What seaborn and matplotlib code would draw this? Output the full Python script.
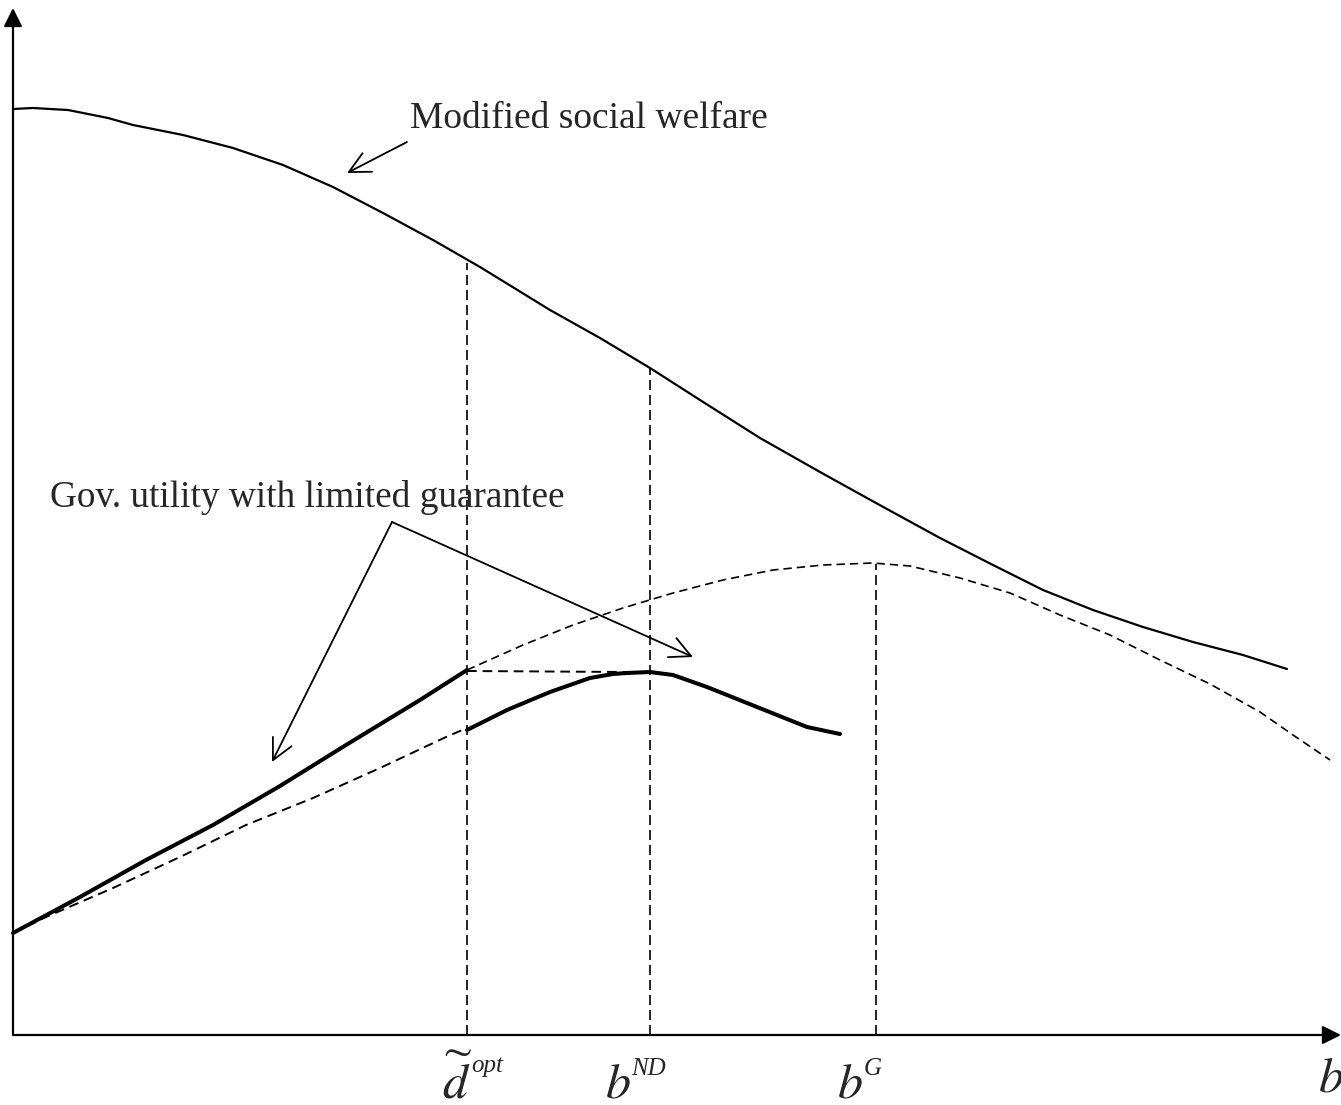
import numpy as np
import pandas as pd
import matplotlib.pyplot as plt
import seaborn as sns

sns.set_style('white')
plt.rcParams['font.family'] = ['Liberation Serif', 'DejaVu Serif']
plt.rcParams['mathtext.fontset'] = 'stix'

# curves (x = b, y = utility, arbitrary units)
welfare_x = [0, 20, 37, 55, 70, 95, 120, 170, 220, 270, 320, 370, 420, 467, 537, 587, 637, 687,
             747, 807, 863, 927, 980, 1030, 1080, 1130, 1180, 1230, 1274]
welfare_y = [926, 927, 926, 925, 922, 917, 910, 900, 887, 870, 848, 822, 795, 768, 725, 697, 667, 635,
             597, 563, 532, 497, 470, 445, 425, 408, 393, 380, 366]

gov_up_x = [0, 67, 133, 200, 267, 333, 407, 454]
gov_up_y = [102, 138, 175, 210, 249, 290, 335, 365]

gov_low_x = [454, 494, 537, 577, 600, 614, 637, 660, 694, 744, 794, 827]
gov_low_y = [305, 325, 343, 357, 361, 362, 363, 360, 348, 328, 308, 301]

nd_x = [0, 33, 100, 167, 233, 300, 367, 433, 454]
nd_y = [102, 118, 147, 178, 210, 237, 267, 298, 307]

g_x = [454, 510, 560, 610, 660, 710, 760, 810, 860, 897, 947, 997, 1047, 1097,
       1147, 1197, 1247, 1280, 1317]
g_y = [365, 390, 410, 427, 442, 455, 465, 470, 472, 469, 457, 442, 420, 400,
       375, 351, 323, 300, 275]

flat_x = [454, 614]
flat_y = [364, 363]

# cut points on the b axis and how high their guide lines reach
cut_x = [454, 637, 863]
cut_top = [772, 667, 471]
cut_base = ['\\widetilde{d}', 'b', 'b']
cut_sup = ['opt', 'ND', 'G']

fig = plt.figure(figsize=(13.41, 11.05), dpi=100)
ax = fig.add_axes([0, 0, 1, 1])
ax.set_xlim(-13, 1328)
ax.set_ylim(-70, 1035)
ax.axis('off')

dash = (0, (5, 3))
sns.lineplot(x=welfare_x, y=welfare_y, sort=False, estimator=None, color='black', lw=1.6, ax=ax)
sns.lineplot(x=gov_up_x, y=gov_up_y, sort=False, estimator=None, color='black', lw=2.9, ax=ax)
sns.lineplot(x=gov_low_x, y=gov_low_y, sort=False, estimator=None, color='black', lw=2.9, ax=ax)
sns.lineplot(x=nd_x, y=nd_y, sort=False, estimator=None, color='black', lw=1.4, ls=dash, ax=ax)
sns.lineplot(x=g_x, y=g_y, sort=False, estimator=None, color='black', lw=1.2, ls=dash, ax=ax)
sns.lineplot(x=flat_x, y=flat_y, sort=False, estimator=None, color='black', lw=1.4, ls=dash, ax=ax)

for cx, ct in zip(cut_x, cut_top):
    ax.plot([cx, cx], [0, ct], color='black', lw=1.2, ls=(0, (6, 3)))

# axes with arrow heads
ax.annotate('', xy=(0, 1027), xytext=(0, 0),
            arrowprops=dict(arrowstyle='-|>', lw=1.6, color='black',
                            mutation_scale=28, shrinkA=0, shrinkB=0))
ax.annotate('', xy=(1328, 0), xytext=(0, 0),
            arrowprops=dict(arrowstyle='-|>', lw=1.6, color='black',
                            mutation_scale=28, shrinkA=0, shrinkB=0))

# labels on the b axis
base_pos = [(429, -63), (592, -62), (824, -62)]
sup_pos = [(458, -37), (618, -40), (851, -40)]
for (bx, by), (sx, sy), base, sup in zip(base_pos, sup_pos, cut_base, cut_sup):
    ax.text(bx, by, '$' + base + '$', fontsize=36, va='baseline', ha='left')
    ax.text(sx, sy, sup, fontsize=18, style='italic', va='baseline', ha='left')
ax.text(1305, -57, '$b$', fontsize=36, va='baseline', ha='left')

# annotations
arrow_kw = dict(arrowstyle='->, head_length=0.5, head_width=0.25', lw=1.3,
                color='black', shrinkA=0, shrinkB=0, mutation_scale=30)
ax.text(397, 907, 'Modified social welfare', fontsize=27, va='baseline', ha='left')
ax.annotate('', xy=(334, 862), xytext=(394, 893), arrowprops=arrow_kw)

ax.text(37, 528, 'Gov. utility with limited guarantee', fontsize=26.8, va='baseline', ha='left')
ax.annotate('', xy=(259, 273), xytext=(379, 513), arrowprops=arrow_kw)
ax.annotate('', xy=(680, 378), xytext=(379, 513), arrowprops=arrow_kw)

fig.savefig('out.png', dpi=100)
